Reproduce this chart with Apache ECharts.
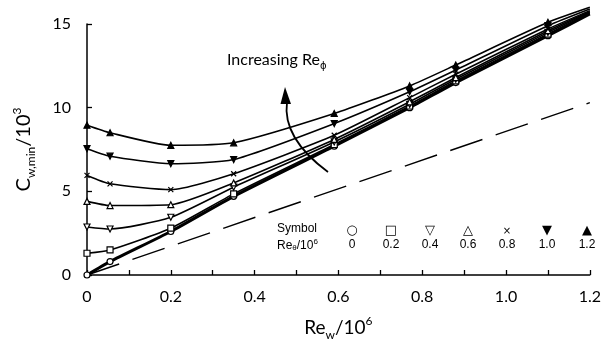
<!DOCTYPE html>
<html>
<head>
<meta charset="utf-8">
<script src="https://cdn.jsdelivr.net/npm/echarts@6/dist/echarts.min.js"></script>
<style>
html, body { margin: 0; padding: 0; background: #fff; }
#main { width: 604px; height: 351px; }
</style>
</head>
<body>
<div id="main"></div>
<script>
// Re_w / 10^6 at the measured points
var reW = [0, 0.055, 0.2, 0.35, 0.59, 0.77, 0.88, 1.1, 1.2];
// Re_phi / 10^6 of each curve
var rePhi = ['0', '0.2', '0.4', '0.6', '0.8', '1.0', '1.2'];
// C_w,min / 10^3 for each curve
var cw00 = [0, 0.8, 2.6, 4.7, 7.7, 10.0, 11.5, 14.3, 15.6];
var cw02 = [1.3, 1.5, 2.8, 4.85, 7.8, 10.1, 11.6, 14.4, 15.65];
var cw04 = [2.87, 2.75, 3.45, 5.25, 7.95, 10.2, 11.7, 14.5, 15.7];
var cw06 = [4.4, 4.15, 4.2, 5.5, 8.1, 10.35, 11.8, 14.6, 15.75];
var cw08 = [5.95, 5.45, 5.1, 6.05, 8.35, 10.6, 12.0, 14.7, 15.8];
var cw10 = [7.55, 7.1, 6.65, 6.9, 9.05, 10.95, 12.25, 14.9, 15.9];
var cw12 = [8.95, 8.5, 7.75, 7.9, 9.65, 11.3, 12.55, 15.1, 16.0];
// dashed reference line
var refX = [0, 1.2];
var refY = [0, 10.3];
// axis ticks
var xTicks = [0, 0.2, 0.4, 0.6, 0.8, 1.0, 1.2];
var yTicks = [0, 5, 10, 15];

var allCw = [cw00, cw02, cw04, cw06, cw08, cw10, cw12];
var crossPath = 'path://M0,0L10,10M10,0L0,10';
var marks = [
    { symbol: 'circle', rotate: 0, fill: '#fff' },
    { symbol: 'rect', rotate: 0, fill: '#fff' },
    { symbol: 'triangle', rotate: 180, fill: '#fff' },
    { symbol: 'triangle', rotate: 0, fill: '#fff' },
    { symbol: crossPath, rotate: 0, fill: 'none' },
    { symbol: 'triangle', rotate: 180, fill: '#000' },
    { symbol: 'triangle', rotate: 0, fill: '#000' }
];
var legendGlyphs = ['\u25CB', '\u25A1', '\u25BD', '\u25B3', '\u00D7', '\u25BC', '\u25B2'];
var legendX = [352, 391, 430, 468, 507, 547, 587];

var myChart = echarts.init(document.getElementById('main'));

var series = allCw.map(function (ys, k) {
    var m = marks[k];
    return {
        name: rePhi[k],
        type: 'line',
        smooth: 0.2,
        clip: false,
        symbol: m.symbol,
        symbolRotate: m.rotate,
        symbolSize: k === 4 ? 5 : 6,
        z: 3 + k,
        lineStyle: { color: '#000', width: k === 0 ? 3 : 1.6 },
        itemStyle: { color: m.fill, borderColor: '#000', borderWidth: 1.2 },
        data: reW.map(function (x, i) {
            var item = { value: [x, ys[i]] };
            if (i === reW.length - 1) item.symbol = 'none';
            return item;
        })
    };
});
series.push({
    name: 'ref',
    type: 'line',
    symbol: 'none',
    lineStyle: { color: '#000', width: 1.4, type: [34, 14] },
    data: refX.map(function (x, i) { return [x, refY[i]]; })
});

var legendEls = [
    { type: 'text', left: 277, top: 223, style: { text: 'Symbol', font: '12px "Liberation Sans"', fill: '#000' } },
    { type: 'text', left: 277, top: 238, style: {
        text: '{a|Re}{s|\u03B8}{a|/10}{p|6}', fill: '#000',
        rich: {
            a: { fontFamily: 'Liberation Sans', fontSize: 12, lineHeight: 14, verticalAlign: 'bottom' },
            s: { fontFamily: 'Liberation Sans', fontSize: 8, lineHeight: 14, verticalAlign: 'bottom' },
            p: { fontFamily: 'Liberation Sans', fontSize: 8, lineHeight: 14, verticalAlign: 'top' }
        } } }
];
rePhi.forEach(function (r, k) {
    legendEls.push({ type: 'text', x: legendX[k], y: 231, style: {
        text: legendGlyphs[k], font: (k === 4 ? '10px' : '13px') + ' "DejaVu Sans"', fill: '#000', align: 'center', verticalAlign: 'middle' } });
    legendEls.push({ type: 'text', x: legendX[k], y: 245, style: {
        text: r, font: '12px "Liberation Sans"', fill: '#000', align: 'center', verticalAlign: 'middle' } });
});

option = {
    animation: false,
    backgroundColor: '#fff',
    grid: { left: 87, right: 12, top: 24, bottom: 76 },
    xAxis: {
        type: 'value',
        min: 0, max: 1.2, interval: 0.2,
        name: '{a|Re}{s|w}{a|/10}{p|6}',
        nameLocation: 'middle',
        nameGap: 40,
        nameTextStyle: {
            rich: {
                a: { fontFamily: 'Lato', fontSize: 19, color: '#000', lineHeight: 26, verticalAlign: 'middle' },
                s: { fontFamily: 'Lato', fontSize: 12, color: '#000', lineHeight: 26, verticalAlign: 'bottom' },
                p: { fontFamily: 'Lato', fontSize: 12, color: '#000', lineHeight: 26, verticalAlign: 'top' }
            }
        },
        axisLine: { lineStyle: { color: '#000', width: 1.5 } },
        axisTick: { inside: true, length: 5, lineStyle: { color: '#000', width: 1.3 } },
        minorTick: { show: true, splitNumber: 2, length: 5, lineStyle: { color: '#000', width: 1.3 } },
        axisLabel: {
            margin: 14, color: '#000', fontFamily: 'Lato', fontSize: 16,
            formatter: function (v) { return xTicks.indexOf(+v.toFixed(1)) >= 0 ? (v === 0 ? '0' : v.toFixed(1)) : ''; }
        },
        splitLine: { show: false }
    },
    yAxis: {
        type: 'value',
        min: 0, max: 15, interval: 5,
        name: '{a|C}{s|w,min}{a|/10}{p|3}',
        nameLocation: 'middle',
        nameGap: 50,
        nameRotate: 90,
        nameTextStyle: {
            rich: {
                a: { fontFamily: 'Lato', fontSize: 20, color: '#000', lineHeight: 26, verticalAlign: 'middle' },
                s: { fontFamily: 'Lato', fontSize: 12, color: '#000', lineHeight: 26, verticalAlign: 'bottom' },
                p: { fontFamily: 'Lato', fontSize: 12, color: '#000', lineHeight: 26, verticalAlign: 'top' }
            }
        },
        axisLine: { show: true, lineStyle: { color: '#000', width: 1.5 } },
        axisTick: { inside: true, length: 5, lineStyle: { color: '#000', width: 1.3 } },
        axisLabel: {
            margin: 16, color: '#000', fontFamily: 'Lato', fontSize: 16,
            formatter: function (v) { return yTicks.indexOf(v) >= 0 ? String(v) : ''; }
        },
        splitLine: { show: false }
    },
    graphic: legendEls.concat([
        { type: 'text', left: 227, top: 52, style: {
            text: '{a|Increasing Re}{s|\u03D5}', fill: '#000',
            rich: {
                a: { fontFamily: 'Lato', fontSize: 16, lineHeight: 22, verticalAlign: 'middle' },
                s: { fontFamily: 'DejaVu Sans', fontSize: 10, lineHeight: 22, verticalAlign: 'bottom' }
            } } },
        { type: 'bezierCurve', shape: { x1: 328, y1: 172, cpx1: 282, cpy1: 138, x2: 287, y2: 102 },
          style: { stroke: '#000', lineWidth: 1.8, fill: 'none' } },
        { type: 'polygon', shape: { points: [[285, 87], [280.5, 104], [291, 104]] },
          style: { fill: '#000' } }
    ]),
    series: series
};

myChart.setOption(option);
</script>
</body>
</html>
